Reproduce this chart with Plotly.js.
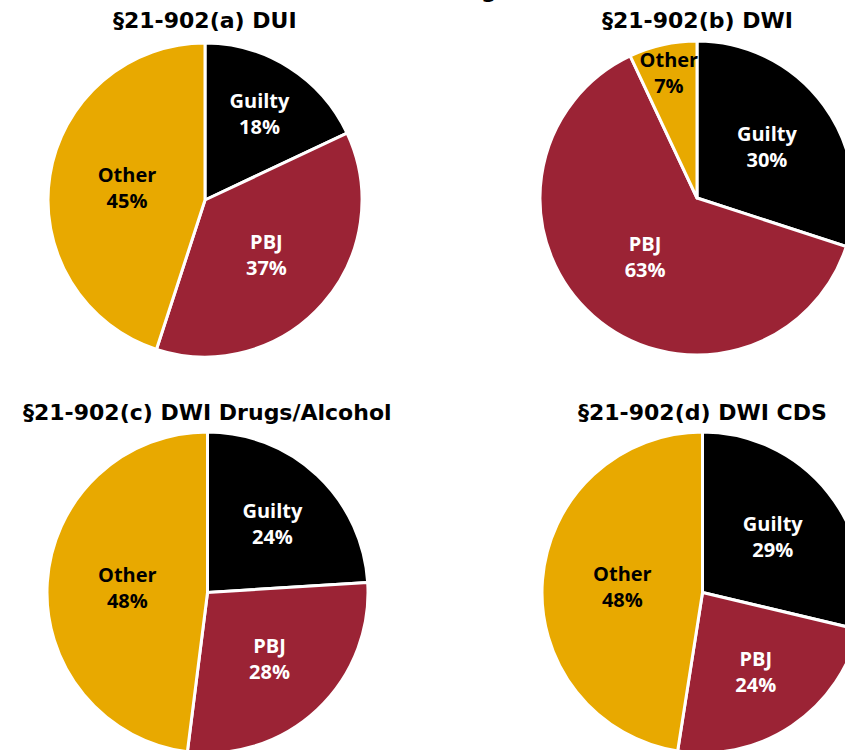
<!DOCTYPE html>
<html>
<head>
<meta charset="utf-8">
<script src="https://cdn.plot.ly/plotly-3.0.1.min.js"></script>
<style>
html,body{margin:0;padding:0;overflow:hidden;background:#fff;}
#chart{width:1000px;height:900px;}
</style>
</head>
<body>
<div id="chart"></div>
<script>
// Data
const categories = ["Guilty", "PBJ", "Other"];
const chartTitles = ["§21-902(a) DUI", "§21-902(b) DWI", "§21-902(c) DWI Drugs/Alcohol", "§21-902(d) DWI CDS"];
const duiValues = [18, 37, 45];
const dwiValues = [30, 63, 7];
const dwiDrugsValues = [24, 28, 48];
const dwiCdsValues = [29, 24, 48];
const mainTitle = "Case Results for Each Charge";

const W = 1000, H = 900;
const colors = ["#000000", "#9B2335", "#E8A900"];
const textColors = ["#FFFFFF", "#FFFFFF", "#000000"];

// pie boxes in pixels: [left, top, size]
const boxes = [[48, 43, 314], [540, 41, 314], [47, 432, 321], [542, 432, 321]];
const seriesList = [duiValues, dwiValues, dwiDrugsValues, dwiCdsValues];

const traces = seriesList.map((vals, i) => {
  const b = boxes[i];
  return {
    type: "pie",
    values: vals,
    labels: categories,
    sort: false,
    direction: "clockwise",
    rotation: 0,
    marker: {colors: colors, line: {color: "#FFFFFF", width: 3}},
    texttemplate: "%{label}<br>%{percent:.0%}",
    textposition: "inside",
    insidetextorientation: "horizontal",
    textfont: {family: "Open Sans, sans-serif", size: 20, color: textColors, weight: "bold"},
    hoverinfo: "label+percent",
    domain: {
      x: [b[0] / W, (b[0] + b[2]) / W],
      y: [1 - (b[1] + b[2]) / H, 1 - b[1] / H]
    },
    showlegend: false
  };
});

const titlePos = [[205, 20], [697, 20], [207, 412], [702, 412]];
const annotations = chartTitles.map((t, i) => ({
  text: "<b>" + t + "</b>",
  x: titlePos[i][0] / W, y: 1 - titlePos[i][1] / H,
  xref: "paper", yref: "paper", xanchor: "center", yanchor: "middle",
  showarrow: false,
  font: {family: "DejaVu Sans, sans-serif", size: 22, color: "#000"}
}));
annotations.push({
  text: "<b>" + mainTitle + "</b>",
  x: 514 / W, y: 1 + 9 / H,
  xref: "paper", yref: "paper", xanchor: "right", yanchor: "middle",
  showarrow: false,
  font: {family: "DejaVu Sans, sans-serif", size: 22, color: "#000"}
});

const layout = {
  width: W, height: H,
  margin: {l: 0, r: 0, t: 0, b: 0},
  paper_bgcolor: "#FFFFFF",
  uniformtext: {mode: "show", minsize: 20},
  annotations: annotations
};

Plotly.newPlot("chart", traces, layout, {displayModeBar: false, staticPlot: true});
</script>
</body>
</html>
